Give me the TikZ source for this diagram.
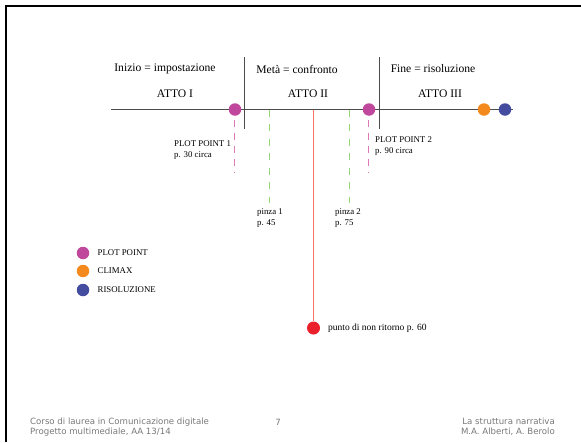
\documentclass[tikz,border=0pt]{standalone}
\usepackage{fontspec}
\setmainfont{Liberation Serif}
\setsansfont{DejaVu Sans}
\usetikzlibrary{positioning}

\definecolor{ppink}{RGB}{192,72,156}
\definecolor{porange}{RGB}{244,138,30}
\definecolor{pblue}{RGB}{68,76,160}
\definecolor{pred}{RGB}{234,32,44}
\definecolor{pgreen}{RGB}{150,214,120}
\definecolor{pdash}{RGB}{222,120,184}
\definecolor{pline}{RGB}{244,120,100}
\definecolor{pfoot}{RGB}{120,120,120}

\tikzset{
  dot/.style={circle, fill=#1, inner sep=0pt, minimum size=12.5pt},
  hdr/.style={font=\fontsize{11.6}{13}\selectfont, inner sep=0pt},
  lbl/.style={font=\fontsize{8.8}{10.5}\selectfont, align=left, anchor=west, inner sep=0pt},
  foot/.style={font=\sffamily\fontsize{8.6}{9.8}\selectfont, text=pfoot, inner sep=0pt},
  ppdash/.style={color=pdash, line width=1.3pt, dash pattern=on 7pt off 6pt},
  pzdash/.style={color=pgreen, line width=1.3pt, dash pattern=on 7pt off 7.5pt}
}

\begin{document}
\begin{tikzpicture}[x=1pt, y=-1pt]
  \useasboundingbox (0,0) rectangle (581,442);
  \draw[line width=2.2pt] (6,442) -- (6,6) -- (581,6);

  % time line
  \coordinate (start) at (111,109.5);
  \coordinate (end) at (513,109.5);
  \draw[black!70, line width=0.8pt] (start) -- (end);

  % acts
  \coordinate (div1top) at (244.5,57);
  \coordinate (div1bot) at (244.5,129);
  \coordinate (div2top) at (379.5,57);
  \coordinate (div2bot) at (379.5,129);
  \draw[black!70, line width=0.8pt] (div1top) -- (div1bot);
  \draw[black!70, line width=0.8pt] (div2top) -- (div2bot);

  \node[hdr] (inizio) at (165,69) {Inizio = impostazione};
  \node[hdr] (meta) at (297,69) {Metà = confronto};
  \node[hdr] (fine) at (433,69) {Fine = risoluzione};
  \node[hdr] (atto1) at (175,94) {ATTO I};
  \node[hdr] (atto2) at (308,94) {ATTO II};
  \node[hdr] (atto3) at (440,94) {ATTO III};

  % pinze and point of no return
  \coordinate (pz1top) at (269.5,109.5);
  \coordinate (pz1bot) at (269.5,203);
  \coordinate (pz2top) at (349.5,109.5);
  \coordinate (pz2bot) at (349.5,203);
  \draw[pzdash] (pz1top) -- (pz1bot);
  \draw[pzdash] (pz2top) -- (pz2bot);
  \node[lbl] (pinza1) at (257,218) {pinza 1\\p. 45};
  \node[lbl] (pinza2) at (335,218) {pinza 2\\p. 75};

  \coordinate (nrtop) at (313.5,109.5);
  \node[dot=pred, minimum size=13pt] (nr) at (313.5,328) {};
  \draw[color=pline, line width=1.3pt] (nrtop) -- (nr.north);
  \node[lbl, font=\fontsize{9.5}{11}\selectfont] (nrlbl) at (328,328) {punto di non ritorno p. 60};

  % plot points
  \node[dot=ppink] (pp1) at (235,109.5) {};
  \node[dot=ppink] (pp2) at (369,109.5) {};
  \node[dot=porange] (climax) at (484,109.5) {};
  \node[dot=pblue] (ris) at (505,109.5) {};
  \coordinate (pp1end) at (234.5,173);
  \coordinate (pp2end) at (368.5,172);
  \draw[ppdash] ([yshift=-4pt, xshift=-0.5pt]pp1.south) -- (pp1end);
  \draw[ppdash] ([yshift=-4pt, xshift=-0.5pt]pp2.south) -- (pp2end);
  \node[lbl] (pp1lbl) at (174,150) {PLOT POINT 1\\p. 30 circa};
  \node[lbl] (pp2lbl) at (375,146) {PLOT POINT 2\\p. 90 circa};

  % legend
  \node[dot=ppink] (legpp) at (83,253) {};
  \node[dot=porange] (legcl) at (83,271) {};
  \node[dot=pblue] (legris) at (83,290) {};
  \node[lbl, right=8pt of legpp] {PLOT POINT};
  \node[lbl, right=8pt of legcl] {CLIMAX};
  \node[lbl, right=8pt of legris] {RISOLUZIONE};

  % footer
  \node[foot, align=left, anchor=west] (footl) at (30,427) {Corso di laurea in Comunicazione digitale\\Progetto multimediale, AA 13/14};
  \node[foot] (page) at (278,422) {7};
  \node[foot, align=right, anchor=east] (footr) at (555,427) {La struttura narrativa\\M.A. Alberti, A. Berolo};
\end{tikzpicture}
\end{document}
